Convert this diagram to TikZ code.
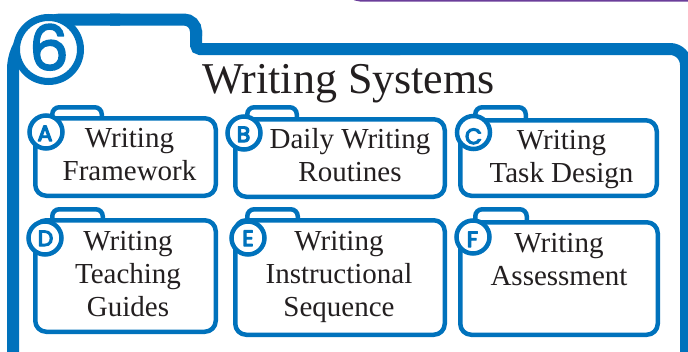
\documentclass[tikz,border=0pt]{standalone}
\usepackage{fontspec}
\setmainfont{Liberation Serif}
\newfontfamily\lettfont{Poppins}
\definecolor{bluec}{RGB}{0,114,188}
\definecolor{purp}{RGB}{107,62,154}
\definecolor{txtc}{RGB}{35,31,32}
\newcommand\heavy[2]{\special{pdf:literal 0 0.447 0.737 RG #1 w 1 j 2 Tr}#2\special{pdf:literal 0 Tr}}
\tikzset{
  outline/.style={draw=bluec, line width=12},
  subline/.style={draw=bluec, line width=4.5, line join=round},
  lettcirc/.style={circle, draw=bluec, line width=4.5, fill=white, minimum size=33, inner sep=0},
  letter/.style={font=\lettfont\fontsize{22}{22}\selectfont, text=bluec, inner sep=0, anchor=base},
  boxtext/.style={font=\fontsize{29}{33}\selectfont, text=txtc, align=center, inner sep=0, anchor=north},
}
\newcommand\subfold[7]{%
  \draw[subline, rounded corners=11] (#1+2.25,#2+2.25) rectangle (#3-2.25,#4-2.25);
  \draw[subline, rounded corners=7] (#5+2.25,#2+2.25) -- (#5+2.25,#7+2.25) -- (#6-2.25,#7+2.25) -- (#6-2.25,#2+2.25);
}
\begin{document}
\begin{tikzpicture}[x=1pt,y=-1pt]
\useasboundingbox (0,0) rectangle (688,351);
\clip (0,0) rectangle (688,351);
\fill[white] (0,0) rectangle (688,351);
% purple box edge at top
\draw[purp, line width=4, rounded corners=12] (348,-40) -- (348,-0.5) -- (720,-0.5);
% outer folder
\draw[outline, rounded corners=50] (13,380) -- (13,19.5) -- (120,19.5);
\draw[outline, rounded corners=12] (110,19.5) -- (196,19.5) -- (196,36);
\draw[outline, rounded corners=4] (196,30) -- (196,49) -- (400,49);
\draw[outline, rounded corners=16] (390,49) -- (686,49) -- (686,380);
% title
\node[font=\fontsize{44}{44}\selectfont, text=txtc, anchor=base, inner sep=0] (title) at (348.5,93) {Writing Systems};
% sub folders
\subfold{33}{116}{218}{198}{50}{104}{105}
\subfold{233}{117}{447}{199}{245}{299}{105}
\subfold{458}{118}{659}{198}{473}{528}{105}
\subfold{33}{218}{218}{334}{50}{105}{207}
\subfold{233}{218}{447}{337}{245}{300}{207}
\subfold{458}{220}{660}{337}{473}{529}{207}
% texts
\node[boxtext] (ta) at (129.5,147-23.1) {\strut Writing\\Framework};
\node[boxtext] (tb) at (350,148-23.1) {\strut Daily Writing\\Routines};
\node[boxtext] (tc) at (561.5,149-23.1) {\strut Writing\\Task Design};
\node[boxtext] (td) at (128,250-23.1) {\strut Writing\\Teaching\\Guides};
\node[boxtext] (te) at (339,250-23.1) {\strut Writing\\Instructional\\Sequence};
\node[boxtext] (tf) at (559,252-23.1) {\strut Writing\\Assessment};
% letter circles
\node[lettcirc] (ca) at (46,132) {};
\node[lettcirc] (cb) at (244,133) {};
\node[lettcirc] (cc) at (473.5,132.5) {};
\node[lettcirc] (cd) at (45,238) {};
\node[lettcirc] (ce) at (248,238) {};
\node[lettcirc] (cf) at (473,237) {};
\node[letter] (la) at (45,141) {\heavy{1.3}{A}};
\node[letter] (lb) at (243.5,142) {\heavy{1.3}{B}};
\node[letter] (lc) at (473.5,144) {\heavy{1.3}{C}};
\node[letter] (ld) at (45.5,246) {\heavy{1.3}{D}};
\node[letter] (le) at (248,246) {\heavy{1.3}{E}};
\node[letter] (lf) at (472.5,247) {\heavy{1.3}{F}};
% big circle with 6
\node[circle, draw=bluec, line width=7, fill=white, minimum size=64, inner sep=0] (bigc) at (48.5,49.5) {};
\node[font=\lettfont\fontsize{62}{62}\selectfont, text=bluec, anchor=base, inner sep=0] (six) at (49,70) {\heavy{1.8}{6}};
\end{tikzpicture}
\end{document}
